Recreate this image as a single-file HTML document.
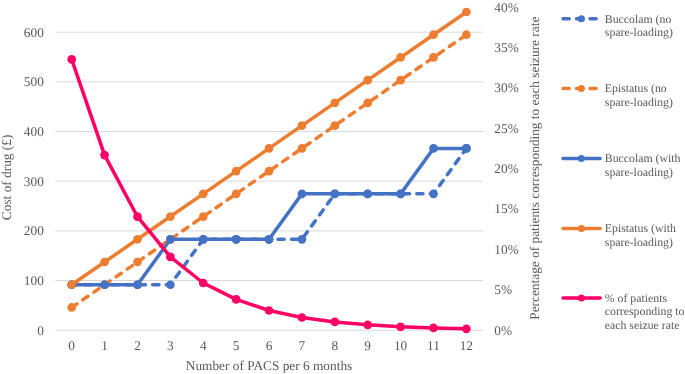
<!DOCTYPE html>
<html><head><meta charset="utf-8"><title>Chart</title>
<style>html,body{margin:0;padding:0;background:#fff;}svg{display:block;will-change:transform;}svg text{text-rendering:geometricPrecision;}</style></head>
<body>
<svg width="685" height="374" viewBox="0 0 685 374" font-family="'Liberation Serif', 'Times New Roman', serif" fill="#595959">
<rect width="685" height="374" fill="#fff"/>
<line x1="55.3" x2="483.2" y1="330.20" y2="330.20" stroke="#D9D9D9" stroke-width="1"/>
<line x1="55.3" x2="483.2" y1="280.53" y2="280.53" stroke="#D9D9D9" stroke-width="1"/>
<line x1="55.3" x2="483.2" y1="230.86" y2="230.86" stroke="#D9D9D9" stroke-width="1"/>
<line x1="55.3" x2="483.2" y1="181.19" y2="181.19" stroke="#D9D9D9" stroke-width="1"/>
<line x1="55.3" x2="483.2" y1="131.52" y2="131.52" stroke="#D9D9D9" stroke-width="1"/>
<line x1="55.3" x2="483.2" y1="81.85" y2="81.85" stroke="#D9D9D9" stroke-width="1"/>
<line x1="55.3" x2="483.2" y1="32.18" y2="32.18" stroke="#D9D9D9" stroke-width="1"/>
<text x="43.8" y="334.70" font-size="13.33" text-anchor="end">0</text>
<text x="43.8" y="285.03" font-size="13.33" text-anchor="end">100</text>
<text x="43.8" y="235.36" font-size="13.33" text-anchor="end">200</text>
<text x="43.8" y="185.69" font-size="13.33" text-anchor="end">300</text>
<text x="43.8" y="136.02" font-size="13.33" text-anchor="end">400</text>
<text x="43.8" y="86.35" font-size="13.33" text-anchor="end">500</text>
<text x="43.8" y="36.68" font-size="13.33" text-anchor="end">600</text>
<text x="494.3" y="334.60" font-size="13.33">0%</text>
<text x="494.3" y="294.22" font-size="13.33">5%</text>
<text x="494.3" y="253.85" font-size="13.33">10%</text>
<text x="494.3" y="213.47" font-size="13.33">15%</text>
<text x="494.3" y="173.10" font-size="13.33">20%</text>
<text x="494.3" y="132.72" font-size="13.33">25%</text>
<text x="494.3" y="92.35" font-size="13.33">30%</text>
<text x="494.3" y="51.97" font-size="13.33">35%</text>
<text x="494.3" y="11.60" font-size="13.33">40%</text>
<text x="71.70" y="350.3" font-size="13.33" text-anchor="middle">0</text>
<text x="104.59" y="350.3" font-size="13.33" text-anchor="middle">1</text>
<text x="137.48" y="350.3" font-size="13.33" text-anchor="middle">2</text>
<text x="170.37" y="350.3" font-size="13.33" text-anchor="middle">3</text>
<text x="203.26" y="350.3" font-size="13.33" text-anchor="middle">4</text>
<text x="236.15" y="350.3" font-size="13.33" text-anchor="middle">5</text>
<text x="269.04" y="350.3" font-size="13.33" text-anchor="middle">6</text>
<text x="301.93" y="350.3" font-size="13.33" text-anchor="middle">7</text>
<text x="334.82" y="350.3" font-size="13.33" text-anchor="middle">8</text>
<text x="367.71" y="350.3" font-size="13.33" text-anchor="middle">9</text>
<text x="400.60" y="350.3" font-size="13.33" text-anchor="middle">10</text>
<text x="433.49" y="350.3" font-size="13.33" text-anchor="middle">11</text>
<text x="466.38" y="350.3" font-size="13.33" text-anchor="middle">12</text>
<text x="269" y="369.8" font-size="13.33" text-anchor="middle">Number of PACS per 6 months</text>
<text transform="translate(10.6,177.4) rotate(-90)" font-size="13.33" text-anchor="middle">Cost of drug (£)</text>
<text transform="translate(539.3,168.2) rotate(-90)" font-size="13.33" text-anchor="middle">Percentage of patients corresponding to each seizure rate</text>
<polyline points="71.70,284.75 104.59,284.75 137.48,284.75 170.37,284.75 203.26,239.30 236.15,239.30 269.04,239.30 301.93,239.30 334.82,193.86 367.71,193.86 400.60,193.86 433.49,193.86 466.38,148.41" fill="none" stroke="#4472C4" stroke-width="3.5" stroke-linecap="round" stroke-linejoin="round" stroke-dasharray="6.2 7.3"/>
<circle cx="71.70" cy="284.75" r="4.35" fill="#4472C4"/>
<circle cx="104.59" cy="284.75" r="4.35" fill="#4472C4"/>
<circle cx="137.48" cy="284.75" r="4.35" fill="#4472C4"/>
<circle cx="170.37" cy="284.75" r="4.35" fill="#4472C4"/>
<circle cx="203.26" cy="239.30" r="4.35" fill="#4472C4"/>
<circle cx="236.15" cy="239.30" r="4.35" fill="#4472C4"/>
<circle cx="269.04" cy="239.30" r="4.35" fill="#4472C4"/>
<circle cx="301.93" cy="239.30" r="4.35" fill="#4472C4"/>
<circle cx="334.82" cy="193.86" r="4.35" fill="#4472C4"/>
<circle cx="367.71" cy="193.86" r="4.35" fill="#4472C4"/>
<circle cx="400.60" cy="193.86" r="4.35" fill="#4472C4"/>
<circle cx="433.49" cy="193.86" r="4.35" fill="#4472C4"/>
<circle cx="466.38" cy="148.41" r="4.35" fill="#4472C4"/>
<polyline points="71.70,307.47 104.59,284.74 137.48,262.01 170.37,239.28 203.26,216.56 236.15,193.83 269.04,171.10 301.93,148.37 334.82,125.64 367.71,102.91 400.60,80.18 433.49,57.45 466.38,34.72" fill="none" stroke="#ED7D31" stroke-width="3.5" stroke-linecap="round" stroke-linejoin="round" stroke-dasharray="6.2 7.3"/>
<circle cx="71.70" cy="307.47" r="4.35" fill="#ED7D31"/>
<circle cx="104.59" cy="284.74" r="4.35" fill="#ED7D31"/>
<circle cx="137.48" cy="262.01" r="4.35" fill="#ED7D31"/>
<circle cx="170.37" cy="239.28" r="4.35" fill="#ED7D31"/>
<circle cx="203.26" cy="216.56" r="4.35" fill="#ED7D31"/>
<circle cx="236.15" cy="193.83" r="4.35" fill="#ED7D31"/>
<circle cx="269.04" cy="171.10" r="4.35" fill="#ED7D31"/>
<circle cx="301.93" cy="148.37" r="4.35" fill="#ED7D31"/>
<circle cx="334.82" cy="125.64" r="4.35" fill="#ED7D31"/>
<circle cx="367.71" cy="102.91" r="4.35" fill="#ED7D31"/>
<circle cx="400.60" cy="80.18" r="4.35" fill="#ED7D31"/>
<circle cx="433.49" cy="57.45" r="4.35" fill="#ED7D31"/>
<circle cx="466.38" cy="34.72" r="4.35" fill="#ED7D31"/>
<polyline points="71.70,284.75 104.59,284.75 137.48,284.75 170.37,239.30 203.26,239.30 236.15,239.30 269.04,239.30 301.93,193.86 334.82,193.86 367.71,193.86 400.60,193.86 433.49,148.41 466.38,148.41" fill="none" stroke="#4472C4" stroke-width="3.5" stroke-linecap="round" stroke-linejoin="round"/>
<circle cx="71.70" cy="284.75" r="4.35" fill="#4472C4"/>
<circle cx="104.59" cy="284.75" r="4.35" fill="#4472C4"/>
<circle cx="137.48" cy="284.75" r="4.35" fill="#4472C4"/>
<circle cx="170.37" cy="239.30" r="4.35" fill="#4472C4"/>
<circle cx="203.26" cy="239.30" r="4.35" fill="#4472C4"/>
<circle cx="236.15" cy="239.30" r="4.35" fill="#4472C4"/>
<circle cx="269.04" cy="239.30" r="4.35" fill="#4472C4"/>
<circle cx="301.93" cy="193.86" r="4.35" fill="#4472C4"/>
<circle cx="334.82" cy="193.86" r="4.35" fill="#4472C4"/>
<circle cx="367.71" cy="193.86" r="4.35" fill="#4472C4"/>
<circle cx="400.60" cy="193.86" r="4.35" fill="#4472C4"/>
<circle cx="433.49" cy="148.41" r="4.35" fill="#4472C4"/>
<circle cx="466.38" cy="148.41" r="4.35" fill="#4472C4"/>
<polyline points="71.70,284.74 104.59,262.01 137.48,239.28 170.37,216.56 203.26,193.83 236.15,171.10 269.04,148.37 301.93,125.64 334.82,102.91 367.71,80.18 400.60,57.45 433.49,34.72 466.38,11.99" fill="none" stroke="#ED7D31" stroke-width="3.5" stroke-linecap="round" stroke-linejoin="round"/>
<circle cx="71.70" cy="284.74" r="4.35" fill="#ED7D31"/>
<circle cx="104.59" cy="262.01" r="4.35" fill="#ED7D31"/>
<circle cx="137.48" cy="239.28" r="4.35" fill="#ED7D31"/>
<circle cx="170.37" cy="216.56" r="4.35" fill="#ED7D31"/>
<circle cx="203.26" cy="193.83" r="4.35" fill="#ED7D31"/>
<circle cx="236.15" cy="171.10" r="4.35" fill="#ED7D31"/>
<circle cx="269.04" cy="148.37" r="4.35" fill="#ED7D31"/>
<circle cx="301.93" cy="125.64" r="4.35" fill="#ED7D31"/>
<circle cx="334.82" cy="102.91" r="4.35" fill="#ED7D31"/>
<circle cx="367.71" cy="80.18" r="4.35" fill="#ED7D31"/>
<circle cx="400.60" cy="57.45" r="4.35" fill="#ED7D31"/>
<circle cx="433.49" cy="34.72" r="4.35" fill="#ED7D31"/>
<circle cx="466.38" cy="11.99" r="4.35" fill="#ED7D31"/>
<polyline points="71.70,59.40 104.59,155.10 137.48,216.70 170.37,256.90 203.26,283.00 236.15,299.40 269.04,310.50 301.93,317.50 334.82,321.90 367.71,324.80 400.60,326.80 433.49,327.90 466.38,328.80" fill="none" stroke="#FF0066" stroke-width="3.5" stroke-linecap="round" stroke-linejoin="round"/>
<circle cx="71.70" cy="59.40" r="4.35" fill="#FF0066"/>
<circle cx="104.59" cy="155.10" r="4.35" fill="#FF0066"/>
<circle cx="137.48" cy="216.70" r="4.35" fill="#FF0066"/>
<circle cx="170.37" cy="256.90" r="4.35" fill="#FF0066"/>
<circle cx="203.26" cy="283.00" r="4.35" fill="#FF0066"/>
<circle cx="236.15" cy="299.40" r="4.35" fill="#FF0066"/>
<circle cx="269.04" cy="310.50" r="4.35" fill="#FF0066"/>
<circle cx="301.93" cy="317.50" r="4.35" fill="#FF0066"/>
<circle cx="334.82" cy="321.90" r="4.35" fill="#FF0066"/>
<circle cx="367.71" cy="324.80" r="4.35" fill="#FF0066"/>
<circle cx="400.60" cy="326.80" r="4.35" fill="#FF0066"/>
<circle cx="433.49" cy="327.90" r="4.35" fill="#FF0066"/>
<circle cx="466.38" cy="328.80" r="4.35" fill="#FF0066"/>
<line x1="563.0" x2="600.1" y1="18.8" y2="18.8" stroke="#4472C4" stroke-width="3.5" stroke-linecap="round" stroke-dasharray="6.2 7.3"/>
<circle cx="581.35" cy="18.8" r="3.55" fill="#4472C4"/>
<text x="604.8" y="22.60" font-size="11.8">Buccolam (no</text>
<text x="604.8" y="36.10" font-size="11.8">spare-loading)</text>
<line x1="563.0" x2="600.1" y1="88.5" y2="88.5" stroke="#ED7D31" stroke-width="3.5" stroke-linecap="round" stroke-dasharray="6.2 7.3"/>
<circle cx="581.35" cy="88.5" r="3.55" fill="#ED7D31"/>
<text x="604.8" y="92.30" font-size="11.8">Epistatus (no</text>
<text x="604.8" y="105.80" font-size="11.8">spare-loading)</text>
<line x1="563.0" x2="600.1" y1="158.5" y2="158.5" stroke="#4472C4" stroke-width="3.5" stroke-linecap="round"/>
<circle cx="581.35" cy="158.5" r="3.55" fill="#4472C4"/>
<text x="604.8" y="162.30" font-size="11.8">Buccolam (with</text>
<text x="604.8" y="175.80" font-size="11.8">spare-loading)</text>
<line x1="563.0" x2="600.1" y1="228.5" y2="228.5" stroke="#ED7D31" stroke-width="3.5" stroke-linecap="round"/>
<circle cx="581.35" cy="228.5" r="3.55" fill="#ED7D31"/>
<text x="604.8" y="232.30" font-size="11.8">Epistatus (with</text>
<text x="604.8" y="245.80" font-size="11.8">spare-loading)</text>
<line x1="563.0" x2="600.1" y1="298" y2="298" stroke="#FF0066" stroke-width="3.5" stroke-linecap="round"/>
<circle cx="581.35" cy="298" r="3.55" fill="#FF0066"/>
<text x="604.8" y="301.80" font-size="11.8">% of patients</text>
<text x="604.8" y="315.30" font-size="11.8">corresponding to</text>
<text x="604.8" y="328.80" font-size="11.8">each seizue rate</text>
</svg>
</body></html>
